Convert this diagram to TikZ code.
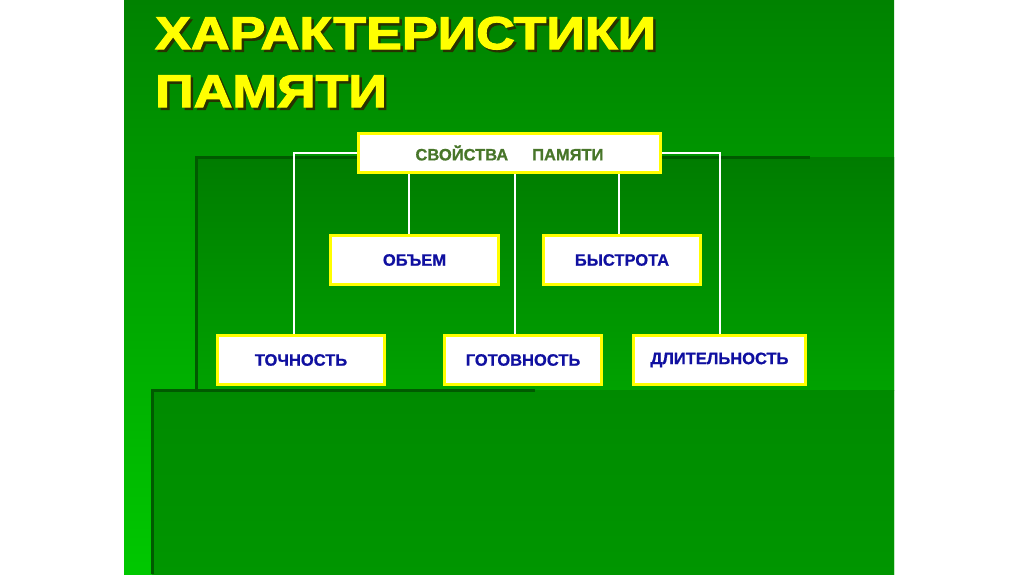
\documentclass[tikz,border=0pt]{standalone}
\usepackage{fontspec}
\setmainfont{Liberation Sans}
\newfontfamily\titlefont{Liberation Sans Bold}[FakeStretch=1.165, FakeBold=2.5]
\newfontfamily\boxfont{Liberation Sans Bold}[FakeBold=0.8]
\usetikzlibrary{positioning}
\usepackage{xcolor}
\definecolor{slidetop}{RGB}{0,130,0}
\definecolor{slidebot}{RGB}{0,200,0}
\definecolor{paneltop}{RGB}{0,124,0}
\definecolor{panelbot}{RGB}{0,162,0}
\definecolor{lowtop}{RGB}{0,138,0}
\definecolor{lowbot}{RGB}{0,150,0}
\definecolor{frameedge}{RGB}{0,90,0}
\definecolor{boxedge}{RGB}{255,255,0}
\definecolor{titleyellow}{RGB}{255,255,0}
\definecolor{titleshadow}{RGB}{40,50,0}
\definecolor{proptext}{RGB}{72,118,42}
\definecolor{leaftext}{RGB}{16,16,160}
\newcommand{\shadowed}[1]{\makebox[0pt][l]{\hspace{2.5pt}\raisebox{-2.5pt}{\color{titleshadow}#1}}#1}
\tikzset{
  prop/.style     ={draw=boxedge, fill=white, line width=3pt, inner sep=0pt,
                    minimum width=302pt, minimum height=39pt, text=proptext,
                    font=\boxfont\fontsize{16.5}{18}\selectfont},
  leaf/.style     ={draw=boxedge, fill=white, line width=3pt, inner sep=0pt,
                    minimum height=49pt, text=leaftext,
                    font=\boxfont\fontsize{16.5}{18}\selectfont},
  link/.style     ={draw=white, line width=2pt},
  ttl/.style      ={anchor=base west, inner sep=0pt, text=titleyellow,
                    font=\titlefont\fontsize{46}{50}\selectfont},
  frameline/.style={draw=frameedge, line width=3pt},
}
\begin{document}
\begin{tikzpicture}[x=1pt, y=-1pt]
  \useasboundingbox (0,0) rectangle (1024,574);
  % slide
  \fill[white] (0,0) rectangle (1024,574);
  \shade[top color=slidetop, bottom color=slidebot] (124,0) rectangle (894,574);
  \shade[top color=paneltop, bottom color=panelbot] (196,157) rectangle (894,390);
  \shade[top color=lowtop, bottom color=lowbot] (152,390) rectangle (894,574);
  \draw[frameline] (196,390) -- (196,157) -- (810,157);
  \draw[frameline] (152,574) -- (152,390) -- (535,390);
  % title
  \node[ttl] (titlea) at (155,49) {\shadowed{ХАРАКТЕРИСТИКИ}};
  \node[ttl] (titleb) at (155,107) {\shadowed{ПАМЯТИ}};
  % boxes
  \node[prop] (prop) at (509.5,153) {СВОЙСТВА\hspace{24pt}ПАМЯТИ};
  \node[leaf, minimum width=168pt] (vol) at (414.5,260) {ОБЪЕМ};
  \node[leaf, minimum width=157pt] (speed) at (622,260) {БЫСТРОТА};
  \node[leaf, minimum width=167pt] (acc) at (301,360) {ТОЧНОСТЬ};
  \node[leaf, minimum width=157pt] (ready) at (523,360) {ГОТОВНОСТЬ};
  \node[leaf, minimum width=172pt] (dur) at (719.5,360) {ДЛИТЕЛЬНОСТЬ};
  % links
  \draw[link] (prop.west) -| ([xshift=-7pt]acc.north);
  \draw[link] (prop.east) -| (dur.north);
  \draw[link] ([xshift=-6pt]vol.north) -- ([xshift=-6pt]vol.north |- prop.south);
  \draw[link] ([xshift=-8pt]ready.north) -- ([xshift=-8pt]ready.north |- prop.south);
  \draw[link] ([xshift=-3pt]speed.north) -- ([xshift=-3pt]speed.north |- prop.south);
\end{tikzpicture}
\end{document}
